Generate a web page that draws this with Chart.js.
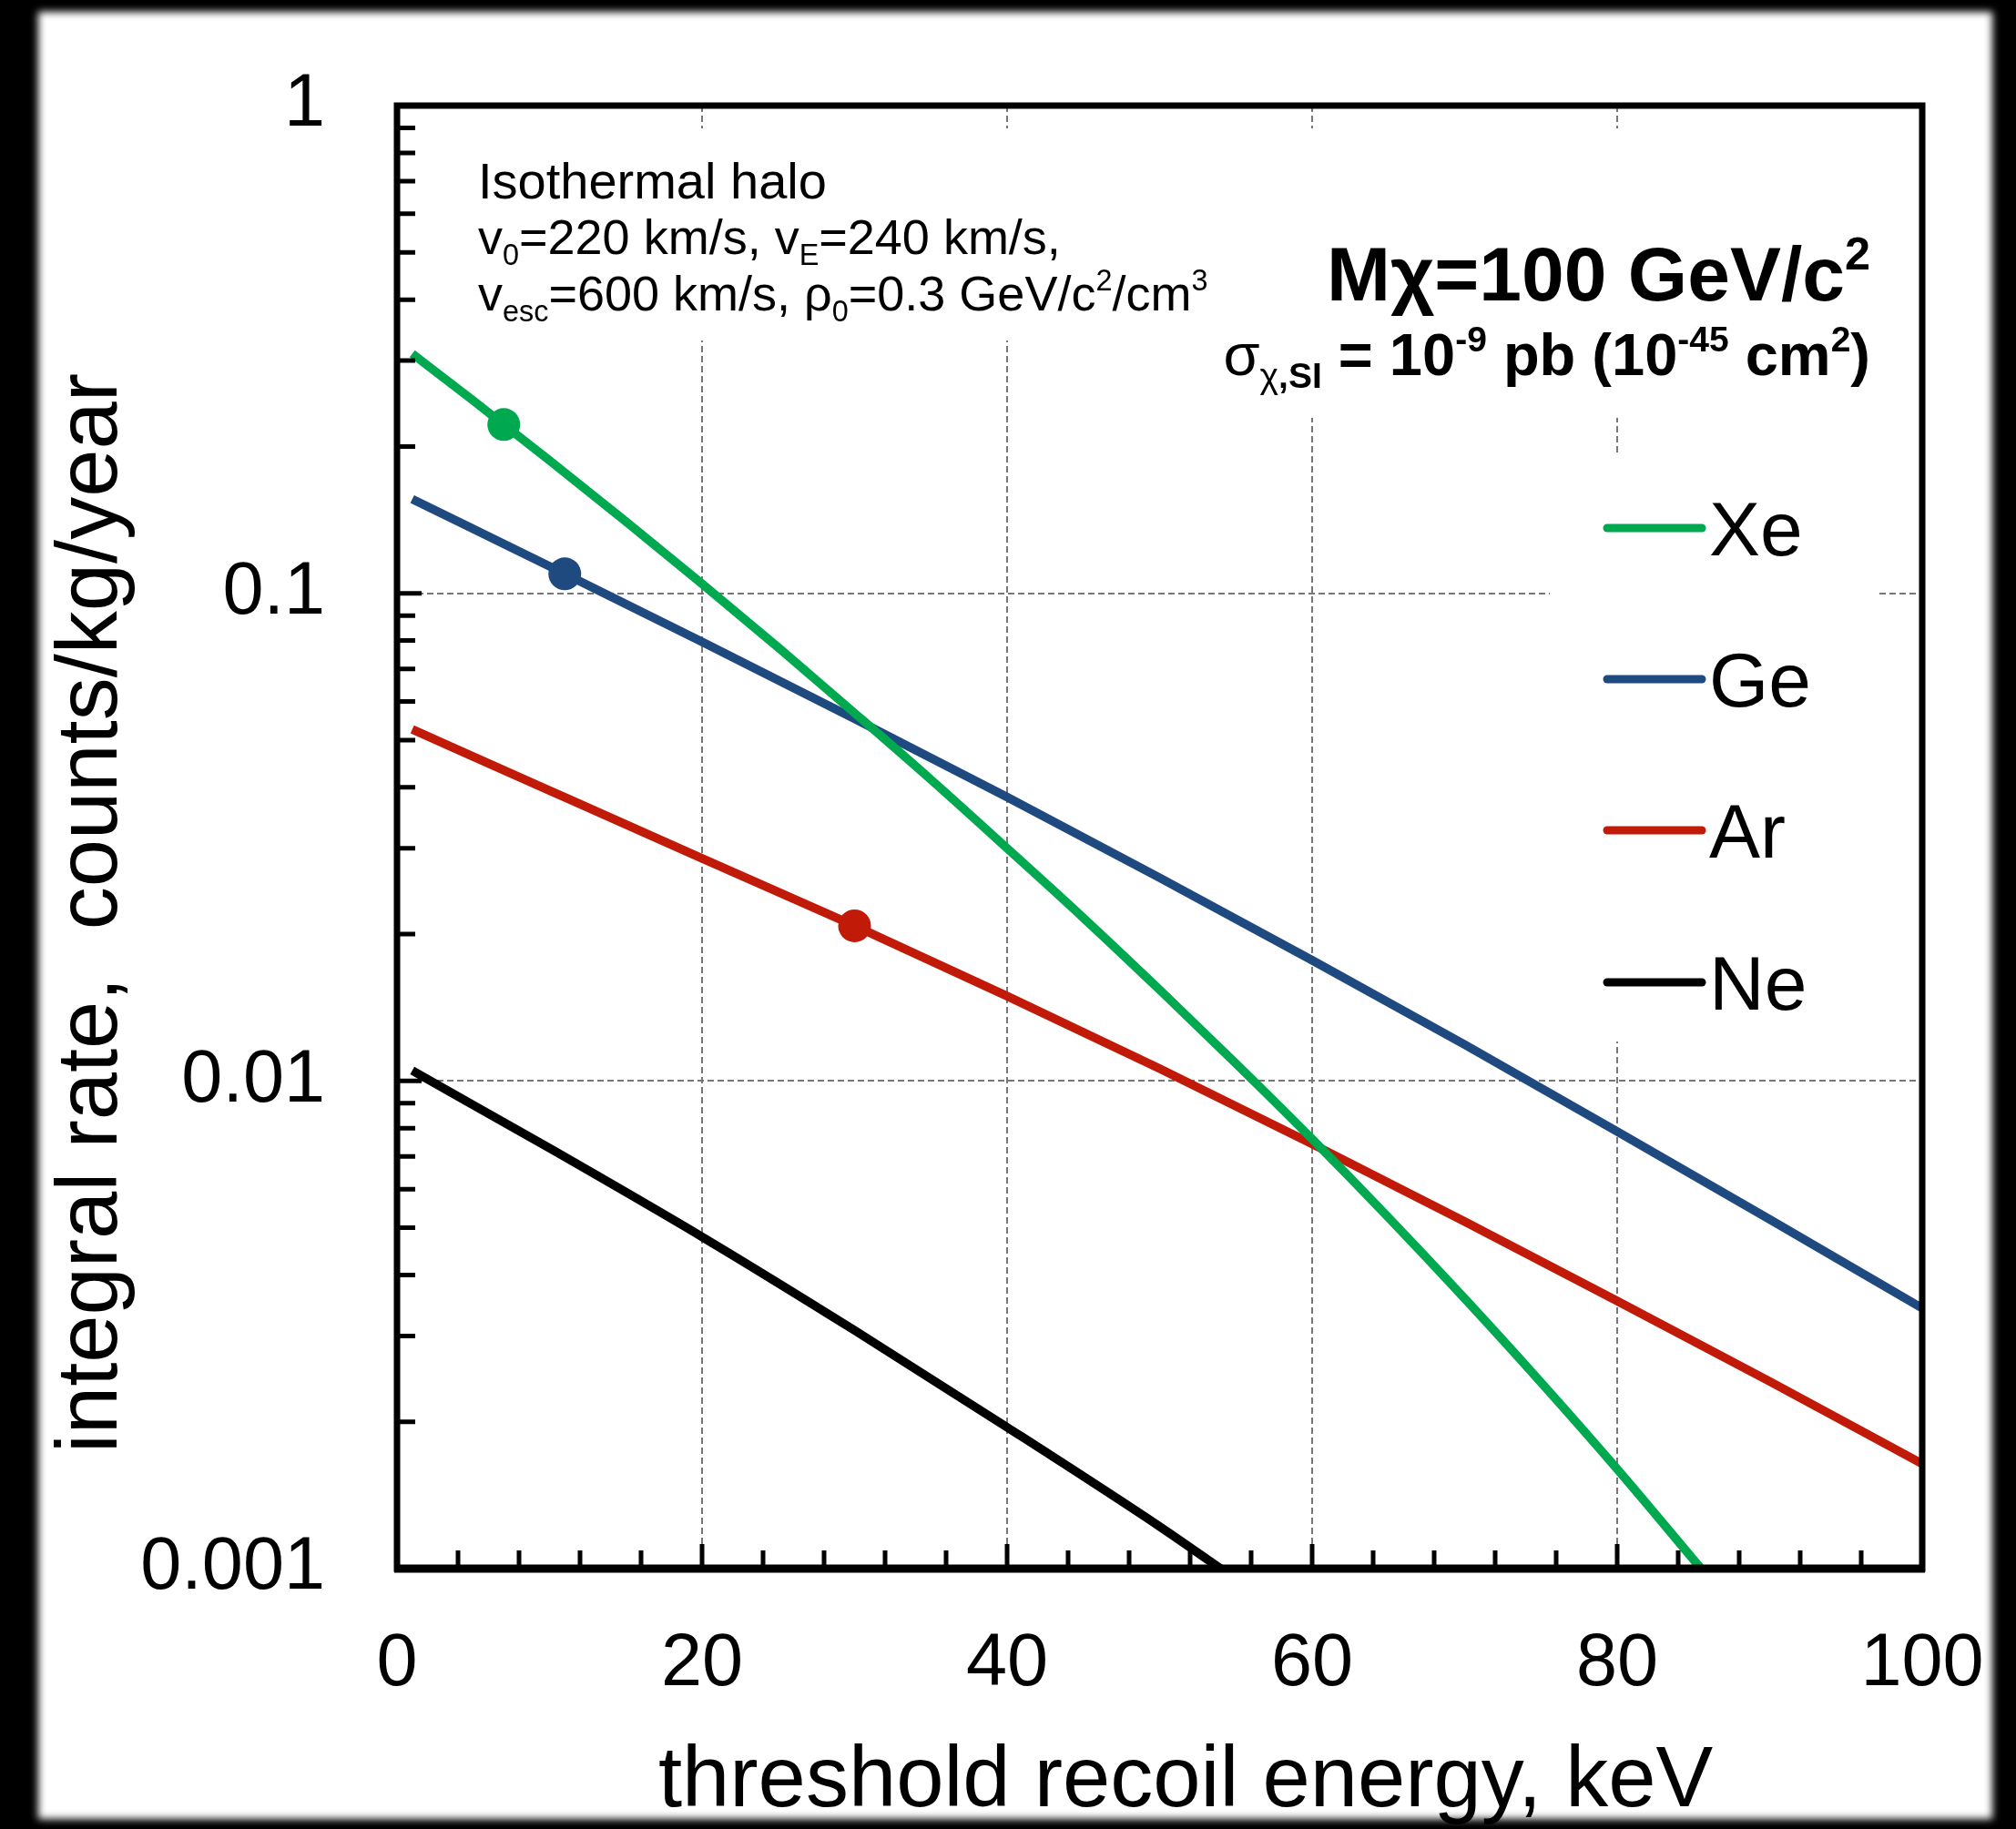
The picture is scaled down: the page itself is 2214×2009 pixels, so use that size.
<!DOCTYPE html>
<html>
<head>
<meta charset="utf-8">
<title>Integral rate vs threshold recoil energy</title>
<script src="https://cdn.jsdelivr.net/npm/chart.js@4.4.1/dist/chart.umd.min.js"></script>
<style>
  html, body { margin: 0; padding: 0; background: #000; }
  body { width: 2214px; height: 2009px; position: relative; overflow: hidden; }
  #paper { position: absolute; left: 42px; top: 13px; width: 2146px; height: 1985px; background: #fff; filter: blur(4px); }
  #rate-chart { position: absolute; left: 0; top: 0; }
</style>
</head>
<body>
<div id="paper"></div>
<canvas id="rate-chart" width="2214" height="2009"></canvas>
<script>
// Threshold recoil energy (keV) and integral rate (counts/kg/year) per target
const xeEnergy = [1, 5, 7, 10, 15, 20, 25, 30, 35, 40, 45, 50, 55, 60, 65, 70, 75, 80, 85.5];
const xeRate = [0.31, 0.2483, 0.2218, 0.1873, 0.1404, 0.1046, 0.0774, 0.0568, 0.0415, 0.0300, 0.0216, 0.01538, 0.01086, 0.0076, 0.00525, 0.00358, 0.00241, 0.0016, 0.001];
const geEnergy = [1, 11, 20, 30, 40, 50, 60, 70, 80, 90, 100];
const geRate = [0.156, 0.1096, 0.0795, 0.0553, 0.0382, 0.0261, 0.01768, 0.01187, 0.00788, 0.0052, 0.00342];
const arEnergy = [1, 10, 20, 30, 40, 50, 60, 70, 80, 90, 100];
const arRate = [0.0526, 0.0394, 0.0286, 0.0208, 0.01493, 0.0106, 0.00743, 0.00515, 0.00354, 0.00242, 0.00164];
const neEnergy = [1, 10, 20, 30, 40, 50, 54];
const neRate = [0.0105, 0.00728, 0.00479, 0.00308, 0.00195, 0.00122, 0.001];

// Marked thresholds on the Xe, Ge and Ar curves
const markerEnergy = [7, 11, 30];
const markerRate = [0.2218, 0.1096, 0.0208];

const targets = ['Xe', 'Ge', 'Ar', 'Ne'];
const targetColors = ['#00a84f', '#1f4a80', '#c11a08', '#000000'];

const xTickLabels = ['0', '20', '40', '60', '80', '100'];
const yTickValues = [0.001, 0.01, 0.1, 1];
const yTickLabels = ['0.001', '0.01', '0.1', '1'];

const FONT = '"Liberation Sans", Arial, Helvetica, sans-serif';

function toPoints(xs, ys) {
  return xs.map((x, i) => ({ x: x, y: ys[i] }));
}

function curve(label, xs, ys, color) {
  return {
    label: label,
    data: toPoints(xs, ys),
    borderColor: color,
    backgroundColor: color,
    borderWidth: 9.5,
    pointRadius: 0,
    cubicInterpolationMode: 'monotone',
    fill: false
  };
}

// Text with sub/superscript pieces, drawn from x (or ending at x)
function drawRuns(ctx, runs, x, y, size, align) {
  const pieces = runs.map(r => {
    const s = (r.sub || r.sup) ? size * 0.6 : size;
    const font = (r.bold ? 'bold ' : '') + s + 'px ' + FONT;
    ctx.font = font;
    return {
      text: r.t,
      font: font,
      w: ctx.measureText(r.t).width,
      dy: r.sub ? size * 0.22 : (r.sup ? -size * 0.4 : 0)
    };
  });
  const total = pieces.reduce((sum, p) => sum + p.w, 0);
  let cx = align === 'right' ? x - total : x;
  ctx.textAlign = 'left';
  ctx.textBaseline = 'alphabetic';
  pieces.forEach(p => {
    ctx.font = p.font;
    ctx.fillText(p.text, cx, y + p.dy);
    cx += p.w;
  });
}

const haloLines = [
  [{ t: 'Isothermal halo' }],
  [{ t: 'v' }, { t: '0', sub: true }, { t: '=220 km/s, v' }, { t: 'E', sub: true }, { t: '=240 km/s,' }],
  [{ t: 'v' }, { t: 'esc', sub: true }, { t: '=600 km/s, \u03c1' }, { t: '0', sub: true },
   { t: '=0.3 GeV/c' }, { t: '2', sup: true }, { t: '/cm' }, { t: '3', sup: true }]
];
const massLine = [{ t: 'M\u03c7=100 GeV/c', bold: true }, { t: '2', sup: true, bold: true }];
const sigmaLine = [
  { t: '\u03c3' }, { t: '\u03c7', sub: true }, { t: ',SI', sub: true, bold: true },
  { t: ' = 10', bold: true }, { t: '-9', sup: true, bold: true },
  { t: ' pb (10', bold: true }, { t: '-45', sup: true, bold: true },
  { t: ' cm', bold: true }, { t: '2', sup: true, bold: true }, { t: ')', bold: true }
];

// White boxes behind the text blocks break the dashed grid lines
const panelBoxes = {
  id: 'panelBoxes',
  beforeDatasetsDraw(chart) {
    const ctx = chart.ctx;
    const a = chart.chartArea;
    ctx.save();
    ctx.fillStyle = '#fff';
    ctx.fillRect(a.left + 72, a.top + 25, 819, 233);
    ctx.fillRect(a.right - 777, a.top + 25, 728, 318);
    ctx.fillRect(a.right - 409, a.top + 385, 360, 643);
    ctx.restore();
  }
};

// Frame and inward tick marks
const frameTicks = {
  id: 'frameTicks',
  afterDatasetsDraw(chart) {
    const ctx = chart.ctx;
    const a = chart.chartArea;
    const xs = chart.scales.x;
    const ys = chart.scales.y;
    ctx.save();
    ctx.strokeStyle = '#000';
    ctx.lineWidth = 5;
    ctx.beginPath();
    for (let e = 4; e < 100; e += 4) {
      const px = xs.getPixelForValue(e);
      const len = e % 20 === 0 ? 27 : 20;
      ctx.moveTo(px, a.bottom);
      ctx.lineTo(px, a.bottom - len);
    }
    for (let d = 0.001; d < 0.5; d *= 10) {
      for (let m = 1; m <= 9; m++) {
        const v = m * d;
        if (v <= 0.0011) continue;
        const py = ys.getPixelForValue(v);
        const len = m === 1 ? 27 : 20;
        ctx.moveTo(a.left, py);
        ctx.lineTo(a.left + len, py);
      }
    }
    ctx.stroke();
    ctx.lineWidth = 7;
    ctx.lineJoin = 'miter';
    ctx.strokeRect(a.left, a.top, a.right - a.left, a.bottom - a.top);
    ctx.lineWidth = 9;
    ctx.beginPath();
    ctx.moveTo(a.left - 3, a.bottom);
    ctx.lineTo(a.right + 3, a.bottom);
    ctx.stroke();
    ctx.restore();
  }
};

// Annotations, legend and axis titles
const labels = {
  id: 'labels',
  afterDraw(chart) {
    const ctx = chart.ctx;
    const a = chart.chartArea;
    const curves = chart.data.datasets.filter(ds => targets.includes(ds.label));
    ctx.save();
    ctx.fillStyle = '#000';

    drawRuns(ctx, haloLines[0], a.left + 89, a.top + 102, 56, 'left');
    drawRuns(ctx, haloLines[1], a.left + 89, a.top + 163, 54, 'left');
    drawRuns(ctx, haloLines[2], a.left + 89, a.top + 225, 54, 'left');

    drawRuns(ctx, massLine, a.right - 57, a.top + 214, 84, 'right');
    drawRuns(ctx, sigmaLine, a.right - 57, a.top + 296, 65, 'right');

    // legend
    const rowY = [a.top + 464, a.top + 630, a.top + 796, a.top + 963];
    curves.forEach((ds, i) => {
      ctx.strokeStyle = ds.borderColor;
      ctx.lineWidth = 9;
      ctx.lineCap = 'round';
      ctx.beginPath();
      ctx.moveTo(a.right - 346, rowY[i]);
      ctx.lineTo(a.right - 242, rowY[i]);
      ctx.stroke();
      ctx.font = '84px ' + FONT;
      ctx.textAlign = 'left';
      ctx.textBaseline = 'alphabetic';
      ctx.fillText(ds.label, a.right - 234, rowY[i] + 30);
    });

    // axis titles
    ctx.font = '94px ' + FONT;
    ctx.textAlign = 'center';
    ctx.textBaseline = 'alphabetic';
    ctx.fillText('threshold recoil energy, keV', a.left + 866, a.bottom + 261);
    ctx.translate(128, a.top + 887);
    ctx.rotate(-Math.PI / 2);
    ctx.fillText('integral rate,  counts/kg/year', 0, 0);
    ctx.restore();
  }
};

const gridColor = '#777777';

new Chart(document.getElementById('rate-chart'), {
  type: 'line',
  data: {
    datasets: [
      {
        label: 'thresholds',
        data: toPoints(markerEnergy, markerRate),
        showLine: false,
        pointRadius: 18,
        pointHoverRadius: 18,
        pointBorderWidth: 0,
        pointBackgroundColor: targetColors.slice(0, 3),
        order: -1
      },
      curve(targets[0], xeEnergy, xeRate, targetColors[0]),
      curve(targets[1], geEnergy, geRate, targetColors[1]),
      curve(targets[2], arEnergy, arRate, targetColors[2]),
      curve(targets[3], neEnergy, neRate, targetColors[3])
    ]
  },
  options: {
    responsive: false,
    animation: false,
    devicePixelRatio: 1,
    layout: { padding: { left: 0, top: 116, right: 103, bottom: 0 } },
    plugins: {
      legend: { display: false },
      tooltip: { enabled: false }
    },
    scales: {
      x: {
        type: 'linear',
        min: 0,
        max: 100,
        afterBuildTicks: s => { s.ticks = xTickLabels.map(t => ({ value: Number(t) })); },
        afterFit: s => {
          s.height = 286;
          // the layout padding already leaves room for the end labels
          s.paddingLeft = 0;
          s.paddingRight = 0;
        },
        ticks: {
          autoSkip: false,
          maxRotation: 0,
          padding: 57,
          color: '#000',
          font: { family: FONT, size: 81 },
          callback: (v, i) => xTickLabels[i]
        },
        grid: {
          drawTicks: false,
          lineWidth: 2,
          color: c => (c.tick && c.tick.value > 0 && c.tick.value < 100) ? gridColor : 'transparent'
        },
        border: { display: false, dash: [7, 4] }
      },
      y: {
        type: 'logarithmic',
        min: 0.001,
        max: 1,
        afterBuildTicks: s => { s.ticks = yTickValues.map(v => ({ value: v, major: true })); },
        afterFit: s => {
          s.width = 436;
          s.paddingTop = 0;
          s.paddingBottom = 0;
        },
        ticks: {
          autoSkip: false,
          padding: 79,
          color: '#000',
          font: { family: FONT, size: 81 },
          callback: (v, i) => yTickLabels[i]
        },
        grid: {
          drawTicks: false,
          lineWidth: 2,
          color: c => (c.tick && (c.tick.value === 0.1 || c.tick.value === 0.01)) ? gridColor : 'transparent'
        },
        border: { display: false, dash: [7, 4] }
      }
    }
  },
  plugins: [panelBoxes, frameTicks, labels]
});
</script>
</body>
</html>
